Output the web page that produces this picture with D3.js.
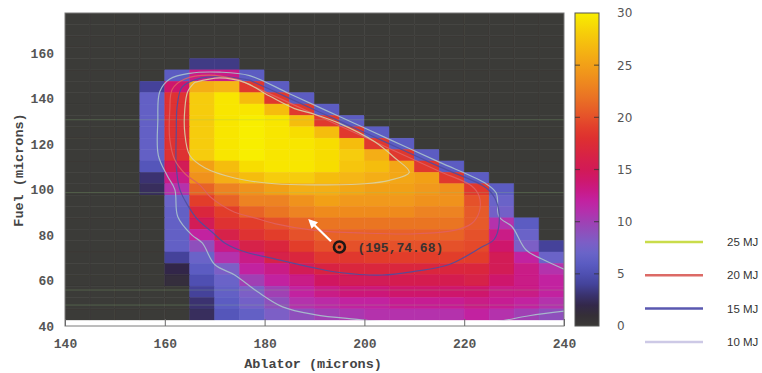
<!DOCTYPE html>
<html>
<head>
<meta charset="utf-8">
<script src="https://cdn.jsdelivr.net/npm/d3@7"></script>
<style>
  html, body { margin: 0; padding: 0; background: #fff; }
  svg { display: block; }
</style>
</head>
<body>
<svg id="chart" width="762" height="373"></svg>
<script>
// cell centres (microns); each cell is 5 x 5
const ablator = [142.5, 147.5, 152.5, 157.5, 162.5, 167.5, 172.5, 177.5, 182.5, 187.5,
                 192.5, 197.5, 202.5, 207.5, 212.5, 217.5, 222.5, 227.5, 232.5, 237.5];
const fuel = [175, 170, 165, 160, 155, 150, 145, 140, 135, 130, 125, 120, 115, 110,
              105, 100, 95, 90, 85, 80, 75, 70, 65, 60, 55, 50, 45];

// colour value per cell, rows top (175) to bottom (45)
const yieldGrid = [
  [0,0,0,0,0,0,0,0,0,0,0,0,0,0,0,0,0,0,0,0],
  [0,0,0,0,0,0,0,0,0,0,0,0,0,0,0,0,0,0,0,0],
  [0,0,0,0,0,0,0,0,0,0,0,0,0,0,0,0,0,0,0,0],
  [0,0,0,0,0,0,0,0,0,0,0,0,0,0,0,0,0,0,0,0],
  [0,0,0,0,0,3.5,3.5,0,0,0,0,0,0,0,0,0,0,0,0,0],
  [0,0,0,0,6,13,13,6,0,0,0,0,0,0,0,0,0,0,0,0],
  [0,0,0,4,14,26,26.5,18.5,6,0,0,0,0,0,0,0,0,0,0,0],
  [0,0,0,6.5,18,28,29.5,27,18.5,6,0,0,0,0,0,0,0,0,0,0],
  [0,0,0,6.5,18,28,29.5,29.5,27,18.5,6,0,0,0,0,0,0,0,0,0],
  [0,0,0,6.5,18,28,29.5,30,29.5,27,18.5,6,0,0,0,0,0,0,0,0],
  [0,0,0,6.5,18,28,29.5,30,29.5,29,27,18.5,6,0,0,0,0,0,0,0],
  [0,0,0,6.5,18,28,29.5,30,29.5,29.5,29,27,18.5,6,0,0,0,0,0,0],
  [0,0,0,6.5,18,28,29.5,30,29.5,29.5,29,28,26,18.5,6,0,0,0,0,0],
  [0,0,0,5.5,15,25,27,29,29.5,29.5,29,27.5,27,25.5,18.5,6,0,0,0,0],
  [0,0,0,3,13,24,26,27,28,28,27,26.5,26,25.5,25,18.5,6,0,0,0],
  [0,0,0,2.5,11,21,23,24,25,26,26,25.5,25,25,24.5,24,18.5,6,0,0],
  [0,0,0,0,7,19,21,23,23,24,25,24.5,24.5,24.5,24,24,20,7,0,0],
  [0,0,0,0,6.5,17,19,21,22,23,23.5,23.5,23.5,23.5,23,23,20.5,7.5,0,0],
  [0,0,0,0,6.5,15,18,19,20,21,22,22,22,22,22,22,20.5,11,6,0],
  [0,0,0,0,6.5,12,16,18,19,20,21,21,21,21,21,21,20,13,7,0],
  [0,0,0,0,6.5,9,13,16,17,19,20,20,20,20,20,20,19.5,14,8,4],
  [0,0,0,0,4,7,11,13,16,17,18.5,18.5,19,19,19,19,19,15,12,7],
  [0,0,0,0,2,6,8,12,13,15,16.5,17,17,17,17,17,17,15,13,11],
  [0,0,0,0,1.3,5,7,10,12,13,14.5,15,15,15.5,15.5,15.5,16,14,13,12],
  [0,0,0,0,0,4,6.5,8,10,12,13,13.5,13.5,14,14,14,14,13,13,12],
  [0,0,0,0,0,3,6,7.5,9,11,11.5,12,12,12.5,12.5,12.5,13,12.5,12,11],
  [0,0,0,0,0,2.5,5.5,6.5,8,9,10,10.5,11,11,11,11,12,11,10,9]
];

const xTicks = [140, 160, 180, 200, 220, 240];
const yTicks = [40, 60, 80, 100, 120, 140, 160];
const cbTicks = [0, 5, 10, 15, 20, 25, 30];

const paletteStops = [0, 1, 2, 3, 4, 5, 6, 7, 8, 9, 10, 11, 12, 13, 14, 15, 16, 17, 18, 19, 20, 22, 24, 26, 28, 30];
const paletteColors = ['#3b3a37', '#352f37', '#33284a', '#3a3370', '#44439a', '#4f50b2', '#5b5cc2',
  '#6a64c8', '#7c5ec6', '#8e50bc', '#a040b4', '#b430ac', '#c222a0', '#c91a86', '#ce186c',
  '#d21a56', '#d6204a', '#da283c', '#de3030', '#e23e2c', '#e5512a', '#ea7424', '#f0921c',
  '#f4ae14', '#f6cc0a', '#f8ee00'];

// faint horizontal scan streaks in the source image (fuel units)
const scanLines = [130.6, 98.6, 55.8, 49.2];

// energy contours, [ablator, fuel]
const contour25 = [[166,147],[164.6,143],[164,135],[164,125],[165,115],[168,109.5],[174,105],[182,102.5],
  [190,102],[200,102.5],[205,104],[209,107.5],[206,114],[202,121],[195,129],[190,133],[186,135.5],
  [181,141],[176,147],[171,149],[166,147]];
const contour20 = [[175,148],[185,138],[195,128],[205,118],[215,108],[221.5,101.5],[223,97],[223,90],
  [221.5,85],[218,82],[210,80.5],[200,80.8],[190,82],[182,85],[178,87.5],[174,90],[171.4,93],[169,97],
  [167,102],[164,107],[162,113],[161,122],[161,135],[161.5,144],[164,148.5],[169,150.2],[175,148]];
const contour15 = [[177,148],[185,140],[195,130],[205,120],[215,110],[224.5,100.5],[226.4,95],[227,85],
  [226,78],[223.6,74.8],[217,67],[210,64],[203.6,62.4],[195,63.5],[190,65.5],[182,69.5],[176,72.6],
  [172,76.5],[169.4,81.4],[166.5,87],[164.6,93],[163,100],[162.3,110],[162.3,125],[162.5,137],
  [163.5,145],[167,148.8],[172,149.5],[177,148]];
const contour10 = [[240,65],[236,69],[232.4,73.4],[229.6,83.6],[227,88],[226.4,98.5],[224,103],
  [215,112],[205,122],[195,132],[185,142],[177,150],[171,151.5],[165,151],[161,148.5],[159,143],
  [158.6,130],[158.7,115],[160.5,106],[162,100],[162.6,88],[165.4,80],[167.5,76.5],[170,67],
  [174,62.4],[178.6,55],[183.6,48.4],[190,45],[198,43],[210,41],[225,41.5],[233,44.5],[240,46.5]];

const contours = [
  { name: '25 MJ', pts: contour25, plot: '#d8d0a4', key: '#c9dc4a' },
  { name: '20 MJ', pts: contour20, plot: '#e06060', key: '#dc6a66' },
  { name: '15 MJ', pts: contour15, plot: '#4e4ea0', key: '#5a58b0' },
  { name: '10 MJ', pts: contour10, plot: '#a8c2cc', key: '#cdc9e6' }
];

const optimum = [195, 74.68];
const arrowFrom = [193.3, 77.2];
const arrowTo = [189.4, 85.6];

const svg = d3.select('#chart');
const defs = svg.append('defs');

const x = d3.scaleLinear().domain([140, 240]).range([65, 564]);
const y = d3.scaleLinear().domain([40, 177.5]).range([326, 13]);
const color = d3.scaleLinear().domain(paletteStops).range(paletteColors).clamp(true);

defs.append('filter').attr('id', 'soft')
  .attr('x', 0).attr('y', 0).attr('width', 1).attr('height', 1)
  .append('feGaussianBlur').attr('stdDeviation', 0.6);

defs.append('clipPath').attr('id', 'clip')
  .append('rect')
  .attr('x', x(140)).attr('y', y(177.5))
  .attr('width', x(240) - x(140)).attr('height', y(42.5) - y(177.5));

// heatmap
const cells = [];
yieldGrid.forEach((row, i) => row.forEach((v, j) => cells.push({ ax: ablator[j], fu: fuel[i], v })));

const plot = svg.append('g').attr('clip-path', 'url(#clip)');
const heat = plot.append('g').attr('filter', 'url(#soft)');
heat.selectAll('rect')
  .data(cells)
  .enter()
  .append('rect')
  .attr('x', d => x(d.ax - 2.5))
  .attr('y', d => y(d.fu + 2.5))
  .attr('width', d => x(d.ax + 2.5) - x(d.ax - 2.5))
  .attr('height', d => y(d.fu - 2.5) - y(d.fu + 2.5))
  .attr('fill', d => color(d.v))
  .attr('stroke', d => color(d.v))
  .attr('stroke-width', 0.5);

plot.append('g')
  .selectAll('line')
  .data(scanLines)
  .enter()
  .append('line')
  .attr('x1', x(140)).attr('x2', x(240))
  .attr('y1', d => y(d)).attr('y2', d => y(d))
  .attr('stroke', '#8fc07a').attr('stroke-width', 1).attr('opacity', 0.28);

// contours
const line = d3.line().x(d => x(d[0])).y(d => y(d[1])).curve(d3.curveCatmullRom);
plot.append('g')
  .selectAll('path')
  .data(contours.slice().reverse())
  .enter()
  .append('path')
  .attr('d', d => line(d.pts))
  .attr('fill', 'none')
  .attr('stroke', d => d.plot)
  .attr('stroke-width', 1.2)
  .attr('opacity', 0.9);

// frame
svg.append('rect')
  .attr('x', x(140)).attr('y', y(177.5))
  .attr('width', x(240) - x(140)).attr('height', y(40) - y(177.5))
  .attr('fill', 'none').attr('stroke', '#7a7a7a').attr('stroke-width', 1);

const xAxis = svg.append('g')
  .attr('transform', `translate(0,${y(40)})`)
  .call(d3.axisBottom(x).tickValues(xTicks).tickSize(-7).tickPadding(13));
xAxis.select('.domain').remove();
xAxis.selectAll('line').attr('stroke', '#6a6a6a');
xAxis.selectAll('text')
  .attr('font-family', 'Liberation Mono, monospace').attr('font-size', 13)
  .attr('font-weight', 'bold').attr('fill', '#555');

const yAxis = svg.append('g')
  .attr('transform', `translate(${x(140)},0)`)
  .call(d3.axisLeft(y).tickValues(yTicks).tickSize(0).tickPadding(11));
yAxis.select('.domain').remove();
yAxis.selectAll('text')
  .attr('font-family', 'Liberation Mono, monospace').attr('font-size', 13)
  .attr('font-weight', 'bold').attr('fill', '#555');

svg.append('text')
  .attr('x', 313).attr('y', 368)
  .attr('text-anchor', 'middle')
  .attr('font-family', 'Liberation Mono, monospace').attr('font-size', 13.5)
  .attr('font-weight', 'bold').attr('fill', '#444')
  .text('Ablator (microns)');

svg.append('text')
  .attr('transform', 'translate(23,170) rotate(-90)')
  .attr('text-anchor', 'middle')
  .attr('font-family', 'Liberation Mono, monospace').attr('font-size', 13.5)
  .attr('font-weight', 'bold').attr('fill', '#444')
  .text('Fuel (microns)');

// optimum marker + arrow
defs.append('marker')
  .attr('id', 'head').attr('viewBox', '0 0 10 10')
  .attr('refX', 5).attr('refY', 5)
  .attr('markerWidth', 4.2).attr('markerHeight', 4.2)
  .attr('orient', 'auto-start-reverse')
  .append('path').attr('d', 'M0,0 L10,5 L0,10 Z').attr('fill', '#fff');

svg.append('line')
  .attr('x1', x(arrowFrom[0])).attr('y1', y(arrowFrom[1]))
  .attr('x2', x(arrowTo[0])).attr('y2', y(arrowTo[1]))
  .attr('stroke', '#fff').attr('stroke-width', 2.2)
  .attr('marker-end', 'url(#head)');

svg.append('circle')
  .attr('cx', x(optimum[0])).attr('cy', y(optimum[1])).attr('r', 5.5)
  .attr('fill', 'none').attr('stroke', '#1c1616').attr('stroke-width', 2.6);
svg.append('circle')
  .attr('cx', x(optimum[0])).attr('cy', y(optimum[1])).attr('r', 1.8)
  .attr('fill', '#2a1818');

svg.append('text')
  .attr('x', x(optimum[0]) + 18).attr('y', y(optimum[1]) + 4.5)
  .attr('font-family', 'Liberation Mono, monospace').attr('font-size', 13)
  .attr('font-weight', 'bold').attr('fill', '#3a3030')
  .text(`(${optimum[0]},${optimum[1]})`);

// colour bar
const cb = d3.scaleLinear().domain([0, 30]).range([326, 13]);
const grad = defs.append('linearGradient')
  .attr('id', 'cbgrad').attr('x1', 0).attr('y1', 1).attr('x2', 0).attr('y2', 0);
grad.selectAll('stop')
  .data(paletteStops)
  .enter()
  .append('stop')
  .attr('offset', d => d / 30)
  .attr('stop-color', (d, i) => paletteColors[i]);

svg.append('rect')
  .attr('x', 575).attr('y', cb(30))
  .attr('width', 24).attr('height', cb(0) - cb(30))
  .attr('fill', 'url(#cbgrad)').attr('stroke', '#555').attr('stroke-width', 1);

svg.append('g')
  .selectAll('line')
  .data(cbTicks.filter(t => t > 0 && t < 30).flatMap(t => [[575, t], [594, t]]))
  .enter()
  .append('line')
  .attr('x1', d => d[0]).attr('x2', d => d[0] + 5)
  .attr('y1', d => cb(d[1])).attr('y2', d => cb(d[1]))
  .attr('stroke', '#333').attr('stroke-width', 1.2).attr('opacity', 0.7);

const cbAxis = svg.append('g')
  .attr('transform', 'translate(599,0)')
  .call(d3.axisRight(cb).tickValues(cbTicks).tickSize(0).tickPadding(18));
cbAxis.select('.domain').remove();
cbAxis.selectAll('text')
  .attr('font-family', 'DejaVu Sans, sans-serif').attr('font-size', 12)
  .attr('fill', '#555');

// legend
const legend = svg.append('g')
  .selectAll('g')
  .data(contours)
  .enter()
  .append('g')
  .attr('transform', (d, i) => `translate(0,${242 + i * 33.3})`);
legend.append('line')
  .attr('x1', 645).attr('x2', 703)
  .attr('stroke', d => d.key).attr('stroke-width', 2.5);
legend.append('text')
  .attr('x', 727).attr('y', 4)
  .attr('font-family', 'Liberation Sans Narrow, Liberation Sans, sans-serif').attr('font-size', 11.5)
  .attr('fill', '#333')
  .text(d => d.name);
</script>
</body>
</html>
